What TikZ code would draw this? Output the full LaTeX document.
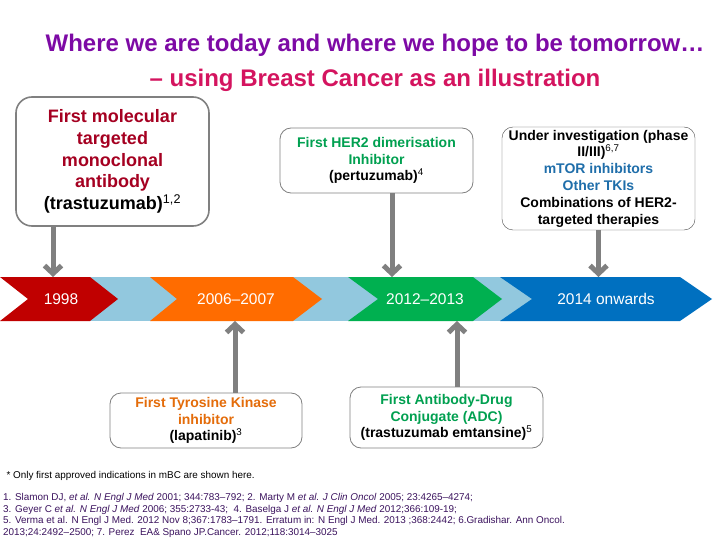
\documentclass[tikz,border=0pt]{standalone}
\usepackage{fontspec}
\setmainfont{Liberation Sans}
\usepackage{xcolor}
\usetikzlibrary{arrows.meta}
\usetikzlibrary{positioning}
\definecolor{titlepurple}{RGB}{125,10,165}
\definecolor{titlepink}{RGB}{212,20,95}
\definecolor{darkred}{RGB}{165,0,33}
\definecolor{chevred}{RGB}{192,0,0}
\definecolor{chevorange}{RGB}{255,108,0}
\definecolor{chevgreen}{RGB}{0,176,80}
\definecolor{chevblue}{RGB}{0,112,192}
\definecolor{bandblue}{RGB}{146,200,222}
\definecolor{txtorange}{RGB}{228,108,10}
\definecolor{txtgreen}{RGB}{0,160,80}
\definecolor{txtblue}{RGB}{31,110,170}
\definecolor{arrowgray}{RGB}{128,128,128}
\definecolor{refpurple}{RGB}{60,20,95}
\newcommand{\refsup}[1]{\textsuperscript{\mdseries #1}}

\begin{document}
\begin{tikzpicture}[x=1pt,y=-1pt,
	box/.style={draw=arrowgray,thick,rounded corners=11pt,align=center,inner sep=0pt,font=\fontsize{14}{16.8}\selectfont\bfseries},
	conn/.style={line width=5pt,arrowgray,-{Straight Barb[length=8pt,width=17pt]}},
	year/.style={text=white,font=\fontsize{15.5}{18}\selectfont}]
	\useasboundingbox[fill=white] (0,0) rectangle (720,540);
	
	\node [text=titlepurple,font=\fontsize{24}{28}\selectfont\bfseries] (title1) at (375,45) {Where we are today and where we hope to be tomorrow\dots};
	\node [text=titlepink,font=\fontsize{24}{28}\selectfont\bfseries] (title2) at (375,80) {-- using Breast Cancer as an illustration};
	
	% timeline
	\coordinate (bandtop) at (0,277);
	\coordinate (bandbot) at (0,321);
	\fill[bandblue] (88,277) rectangle (535,321);
	\fill[chevred] (0,277)--(90,277)--(118,299)--(90,321)--(0,321)--(28,299)--cycle;
	\fill[chevorange] (150,277)--(293,277)--(322,299)--(293,321)--(150,321)--(177,299)--cycle;
	\fill[chevgreen] (348,277)--(473,277)--(502,299)--(473,321)--(348,321)--(378,299)--cycle;
	\fill[chevblue] (500,277)--(680,277)--(712,299)--(680,321)--(500,321)--(532,299)--cycle;
	\node [year] (y1998) at (61,299) {1998};
	\node [year] (y2006) at (236,299) {2006--2007};
	\node [year] (y2012) at (425,299) {2012--2013};
	\node [year] (y2014) at (606,299) {2014 onwards};
	
	\node [box,draw,line width=1.6pt,rounded corners=16pt,minimum width=193pt,minimum height=129pt,font=\fontsize{18}{21.8}\selectfont\bfseries] (mab) at (112.5,161.5) {\textcolor{darkred}{First molecular}\\\textcolor{darkred}{targeted}\\\textcolor{darkred}{monoclonal}\\\textcolor{darkred}{antibody}\\(trastuzumab)\refsup{1,2}};
	\node [box,minimum width=193pt,minimum height=65pt] (her2) at (376.5,160.5) {\textcolor{txtgreen}{First HER2 dimerisation}\\\textcolor{txtgreen}{Inhibitor}\\(pertuzumab)\refsup{4}};
	\node [box,thin,draw=black!70,minimum width=193pt,minimum height=103pt] (trials) at (598.5,178.5) {Under investigation (phase\\II/III)\refsup{6,7}\\\textcolor{txtblue}{mTOR inhibitors}\\\textcolor{txtblue}{Other TKIs}\\Combinations of HER2-\\targeted therapies};
	\node [box,minimum width=192pt,minimum height=55pt] (tki) at (206,420.5) {\textcolor{txtorange}{First Tyrosine Kinase}\\\textcolor{txtorange}{inhibitor}\\(lapatinib)\refsup{3}};
	\node [box,minimum width=193pt,minimum height=61pt] (adc) at (446.5,417.5) {\textcolor{txtgreen}{First Antibody-Drug}\\\textcolor{txtgreen}{Conjugate (ADC)}\\(trastuzumab emtansine)\refsup{5}};
	
	\draw[conn] (mab.south -| 53,0) -- (53,0 |- bandtop);
	\draw[conn] (her2.south -| 392,0) -- (392,0 |- bandtop);
	\draw[conn] (trials.south) -- (trials.south |- bandtop);
	\draw[conn] (tki.north -| 235,0) -- (235,0 |- bandbot);
	\draw[conn] (adc.north -| 457,0) -- (457,0 |- bandbot);
	
	\node [anchor=west,font=\fontsize{9.9}{12}\selectfont] (note) at (3,476) {* Only first approved indications in mBC are shown here.};
	\node [anchor=north west,align=left,inner sep=0pt,text=refpurple,font=\fontsize{9.9}{11.7}\selectfont] (refs) at (3,493) {1. Slamon DJ, \textit{et al. N Engl J Med} 2001; 344:783--792; 2. Marty M \textit{et al. J Clin Oncol} 2005; 23:4265--4274;\\
	3. Geyer C \textit{et al. N Engl J Med} 2006; 355:2733-43;\ \ 4. Baselga J \textit{et al. N Engl J Med} 2012;366:109-19;\\
	5. Verma et al. N Engl J Med. 2012 Nov 8;367:1783--1791. Erratum in: N Engl J Med. 2013 ;368:2442; 6.Gradishar. Ann Oncol.\\
	2013;24:2492--2500; 7. Perez\ \ EA\& Spano JP.Cancer. 2012;118:3014--3025};
	
\end{tikzpicture}
\end{document}
